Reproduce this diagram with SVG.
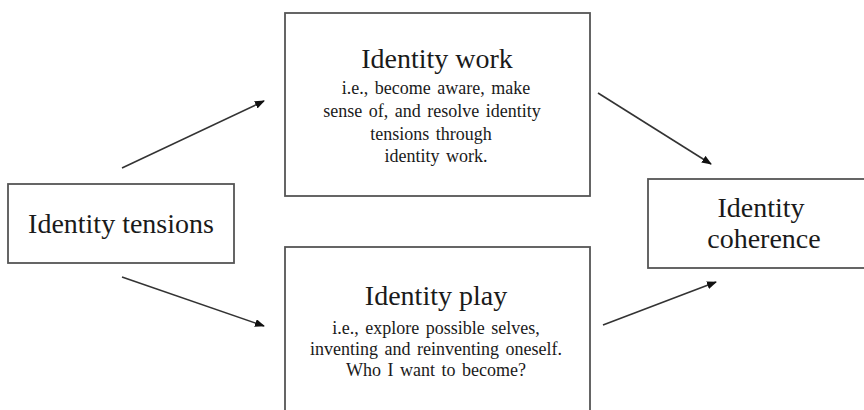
<svg xmlns="http://www.w3.org/2000/svg" width="864" height="410" viewBox="0 0 864 410">
  <defs>
    <style>
      .box { fill: #ffffff; stroke: #555555; stroke-width: 1.8; }
      .title { font-family: "Liberation Serif", "Times New Roman", serif; font-size: 28px; fill: #1a1a1a; text-anchor: middle; }
      .sub { font-family: "Liberation Serif", "Times New Roman", serif; font-size: 18px; fill: #1a1a1a; text-anchor: middle; word-spacing: 2px; }
      .link { stroke: #333333; stroke-width: 1.6; fill: none; marker-end: url(#head); }
    </style>
    <marker id="head" markerWidth="10" markerHeight="8" refX="9" refY="4" orient="auto" markerUnits="userSpaceOnUse">
      <path d="M0,0 L10,4 L0,8 Z" fill="#111111"/>
    </marker>
  </defs>
  <rect width="864" height="410" fill="#ffffff"/>

  <g id="connectors">
    <line class="link" x1="122" y1="168" x2="264" y2="101"/>
    <line class="link" x1="122" y1="277" x2="264" y2="326"/>
    <line class="link" x1="598" y1="93" x2="711" y2="164"/>
    <line class="link" x1="603" y1="325" x2="716" y2="282"/>
  </g>

  <g id="identity-tensions">
    <rect class="box" x="8" y="184" width="226" height="79"/>
    <text class="title" x="121" y="233">Identity tensions</text>
  </g>

  <g id="identity-work">
    <rect class="box" x="285" y="13" width="305" height="183"/>
    <text class="title" x="437" y="68">Identity work</text>
    <text class="sub" x="436" y="94">i.e., become aware, make</text>
    <text class="sub" x="432" y="117">sense of, and resolve identity</text>
    <text class="sub" x="431" y="140">tensions through</text>
    <text class="sub" x="436" y="162">identity work.</text>
  </g>

  <g id="identity-play">
    <rect class="box" x="285" y="247" width="305" height="180"/>
    <text class="title" x="436" y="305">Identity play</text>
    <text class="sub" x="436" y="334">i.e., explore possible selves,</text>
    <text class="sub" x="436" y="355">inventing and reinventing oneself.</text>
    <text class="sub" x="436" y="376">Who I want to become?</text>
  </g>

  <g id="identity-coherence">
    <rect class="box" x="648" y="179" width="240" height="89"/>
    <text class="title" x="761" y="217">Identity</text>
    <text class="title" x="764" y="248">coherence</text>
  </g>
</svg>
